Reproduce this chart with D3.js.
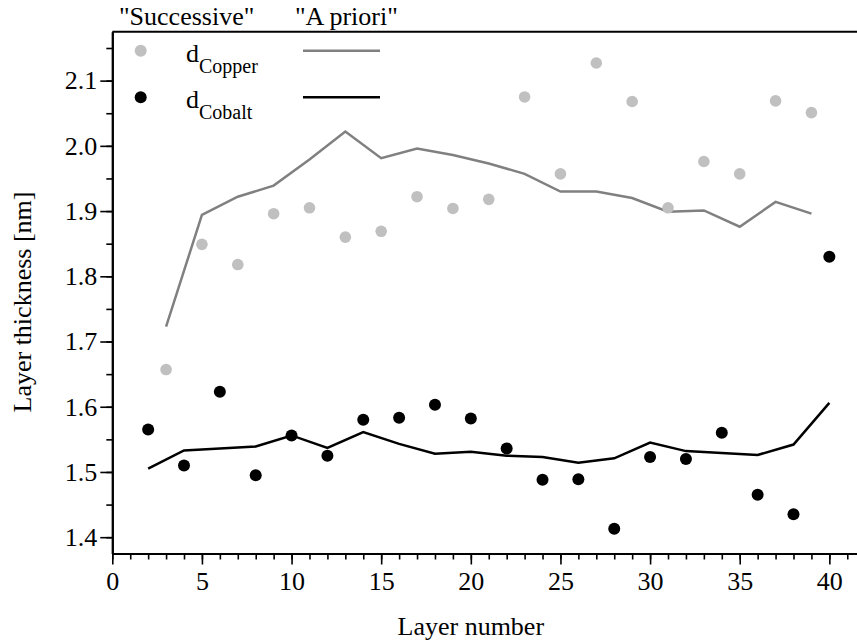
<!DOCTYPE html>
<html>
<head>
<meta charset="utf-8">
<script src="https://d3js.org/d3.v7.min.js"></script>
<style>
    body { margin: 0; background: #fff; }
    svg text { font-family: "Liberation Serif", "Times New Roman", serif; fill: #000; }
</style>
</head>
<body>
<script>
(function(){

//layer numbers for the two measured series
var copperLayers = [3, 5, 7, 9, 11, 13, 15, 17, 19, 21, 23, 25, 27, 29, 31, 33, 35, 37, 39];
var cobaltLayers = [2, 4, 6, 8, 10, 12, 14, 16, 18, 20, 22, 24, 26, 28, 30, 32, 34, 36, 38, 40];

//"Successive" values (dots)
var copperSuccessive = [1.657, 1.849, 1.818, 1.896, 1.905, 1.860, 1.869, 1.922, 1.904, 1.918,
    2.075, 1.957, 2.127, 2.068, 1.905, 1.976, 1.957, 2.069, 2.051];
var cobaltSuccessive = [1.565, 1.510, 1.623, 1.495, 1.556, 1.525, 1.580, 1.583, 1.603, 1.582,
    1.536, 1.488, 1.489, 1.413, 1.523, 1.520, 1.560, 1.465, 1.435, 1.830];

//"A priori" values (lines)
var copperApriori = [1.723, 1.894, 1.922, 1.939, 1.979, 2.022, 1.981, 1.996, 1.986, 1.973,
    1.957, 1.930, 1.930, 1.920, 1.899, 1.901, 1.876, 1.914, 1.896];
var cobaltApriori = [1.505, 1.533, 1.536, 1.539, 1.556, 1.537, 1.561, 1.543, 1.528, 1.531,
    1.525, 1.523, 1.514, 1.521, 1.545, 1.532, 1.529, 1.526, 1.542, 1.606];

//tick values
var xMajorTicks = [0, 5, 10, 15, 20, 25, 30, 35, 40];
var yMajorTicks = [1.4, 1.5, 1.6, 1.7, 1.8, 1.9, 2.0, 2.1];

var width = 857,
    height = 644,
    fontSize = "26px";

var svg = d3.select("body")
    .append("svg")
    .attr("width", width)
    .attr("height", height);

//scales (the frame runs past the right edge of the picture)
var x = d3.scaleLinear()
    .domain([0, 42])
    .range([112.3, 865.2]);

var y = d3.scaleLinear()
    .domain([1.375, 2.175])
    .range([553.5, 31.7]);

//minor ticks
svg.append("g")
    .attr("transform", "translate(0," + y.range()[0] + ")")
    .call(d3.axisBottom(x).tickValues(d3.range(0, 43, 1)).tickSize(6).tickSizeOuter(0).tickFormat(""))
    .call(styleAxis);

svg.append("g")
    .attr("transform", "translate(" + x.range()[0] + ",0)")
    .call(d3.axisLeft(y).tickValues(d3.range(1.4, 2.176, 0.05)).tickSize(6).tickSizeOuter(0).tickFormat(""))
    .call(styleAxis);

//major ticks with labels
svg.append("g")
    .attr("transform", "translate(0," + y.range()[0] + ")")
    .call(d3.axisBottom(x).tickValues(xMajorTicks).tickSize(11).tickSizeOuter(0).tickPadding(7))
    .call(styleAxis);

svg.append("g")
    .attr("transform", "translate(" + x.range()[0] + ",0)")
    .call(d3.axisLeft(y).tickValues(yMajorTicks).tickSize(12).tickSizeOuter(0).tickPadding(3)
        .tickFormat(d3.format(".1f")))
    .call(styleAxis);

//top frame line
svg.append("line")
    .attr("x1", x.range()[0]).attr("x2", x.range()[1])
    .attr("y1", y.range()[1]).attr("y2", y.range()[1])
    .attr("stroke", "#000")
    .attr("stroke-width", 2);

function styleAxis(g){
    g.selectAll("path").attr("stroke", "#000").attr("stroke-width", 2);
    g.selectAll("line").attr("stroke", "#000").attr("stroke-width", 1.6);
    g.selectAll("text")
        .style("font-family", "'Liberation Serif', serif")
        .style("font-size", fontSize);
}

//a priori lines
var line = d3.line()
    .x(function(d){ return x(d[0]); })
    .y(function(d){ return y(d[1]); });

svg.append("path")
    .datum(d3.zip(copperLayers, copperApriori))
    .attr("d", line)
    .attr("fill", "none")
    .attr("stroke", "#808080")
    .attr("stroke-width", 2.5);

svg.append("path")
    .datum(d3.zip(cobaltLayers, cobaltApriori))
    .attr("d", line)
    .attr("fill", "none")
    .attr("stroke", "#000")
    .attr("stroke-width", 2.5);

//successive dots
svg.selectAll(".copper")
    .data(d3.zip(copperLayers, copperSuccessive))
    .enter()
    .append("circle")
    .attr("class", "copper")
    .attr("cx", function(d){ return x(d[0]); })
    .attr("cy", function(d){ return y(d[1]); })
    .attr("r", 5.8)
    .attr("fill", "#c0c0c0");

svg.selectAll(".cobalt")
    .data(d3.zip(cobaltLayers, cobaltSuccessive))
    .enter()
    .append("circle")
    .attr("class", "cobalt")
    .attr("cx", function(d){ return x(d[0]); })
    .attr("cy", function(d){ return y(d[1]); })
    .attr("r", 6)
    .attr("fill", "#000");

//axis titles
svg.append("text")
    .attr("x", 470.8)
    .attr("y", 635)
    .attr("text-anchor", "middle")
    .style("font-size", fontSize)
    .text("Layer number");

svg.append("text")
    .attr("transform", "translate(31,302) rotate(-90)")
    .attr("text-anchor", "middle")
    .style("font-size", fontSize)
    .text("Layer thickness [nm]");

//legend
svg.append("text").attr("x", 119).attr("y", 25).style("font-size", fontSize).text("\"Successive\"");
svg.append("text").attr("x", 295).attr("y", 25).style("font-size", fontSize).text("\"A priori\"");

var legendRows = [
    {name: "Copper", dot: "#c0c0c0", stroke: "#808080", cy: 50.7},
    {name: "Cobalt", dot: "#000", stroke: "#000", cy: 97.3}
];

legendRows.forEach(function(row){
    svg.append("circle")
        .attr("cx", 140.7).attr("cy", row.cy).attr("r", 6)
        .attr("fill", row.dot);
    var t = svg.append("text")
        .attr("x", 186).attr("y", row.cy + 11)
        .style("font-size", fontSize);
    t.append("tspan").text("d");
    t.append("tspan").attr("dy", 11).style("font-size", "20px").text(row.name);
    svg.append("line")
        .attr("x1", 303).attr("x2", 380)
        .attr("y1", row.cy).attr("y2", row.cy)
        .attr("stroke", row.stroke)
        .attr("stroke-width", 2.5);
});

})();
</script>
</body>
</html>
